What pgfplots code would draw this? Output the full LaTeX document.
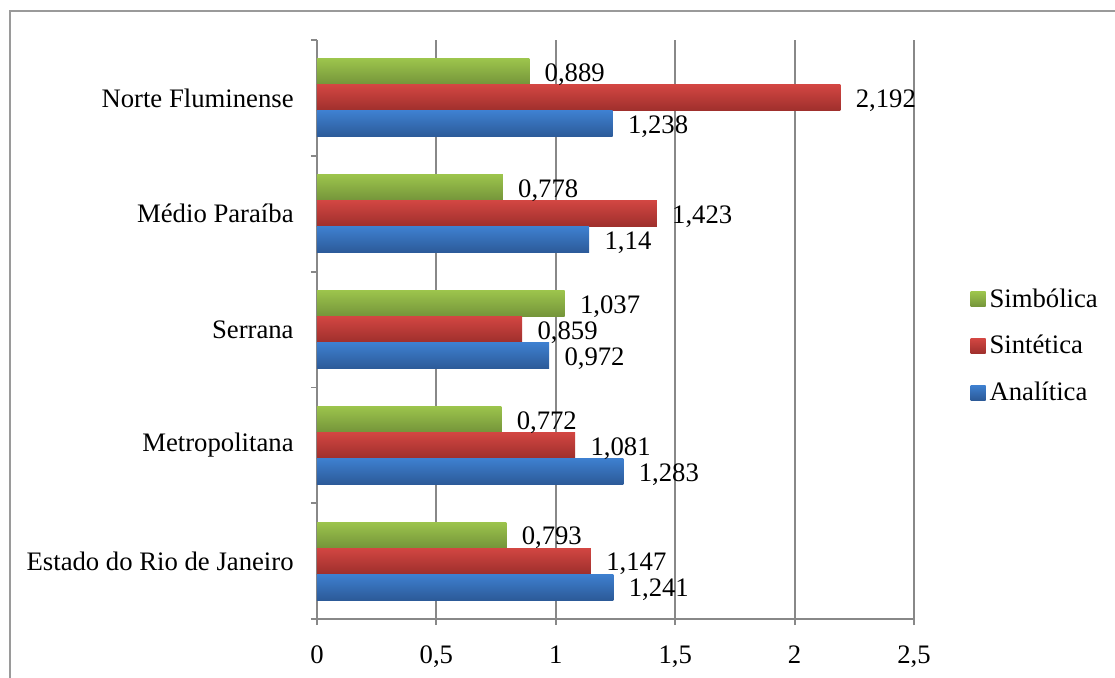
\documentclass[border=0pt]{standalone}
\usepackage{pgfplots}
\pgfplotsset{compat=1.18}
\usepackage{fontspec}
\setmainfont{Liberation Serif}
\definecolor{gtop}{HTML}{9CC44C}
\definecolor{gbot}{HTML}{74943A}
\definecolor{rtop}{HTML}{D24642}
\definecolor{rbot}{HTML}{9E2F2C}
\definecolor{btop}{HTML}{3E80D0}
\definecolor{bbot}{HTML}{2C5A98}
\definecolor{gridg}{HTML}{888888}
\definecolor{frameg}{HTML}{9A9A9A}
\pgfplotsset{
  gser/.style={draw=none, top color=gtop, bottom color=gbot, bar shift=13pt},
  rser/.style={draw=none, top color=rtop, bottom color=rbot, bar shift=0pt},
  bser/.style={draw=none, top color=btop, bottom color=bbot, bar shift=-13pt},
}
\begin{document}
\begin{tikzpicture}[font=\fontsize{13.35}{16}\selectfont]
\clip (0,0) rectangle (557.5pt,338.5pt);
\path[use as bounding box] (0,0) rectangle (557.5pt,338.5pt);
\draw[frameg, line width=1pt] (4.75pt,-20pt) -- (4.75pt,333.25pt) -- (600pt,333.25pt);
\begin{axis}[
  at={(158.5pt,29pt)}, anchor=south west,
  scale only axis, width=298.5pt, height=289.5pt,
  xbar, bar width=13pt,
  xmin=0, xmax=2.5, ymin=-0.5, ymax=4.5,
  axis x line*=bottom, axis y line*=left,
  axis line style={gridg, line width=0.9pt, -},
  xmajorgrids, grid style={gridg, line width=0.9pt},
  xtick={0,0.5,1,1.5,2,2.5},
  /pgf/number format/use comma,
  /pgf/number format/assume math mode=true,
  tick align=outside, major tick length=3pt, minor tick length=3pt,
  major x tick style={gridg, line width=0.9pt},
  major y tick style={draw=none},
  minor y tick style={gridg, line width=0.9pt},
  ytick={0,1,2,3,4},
  minor ytick={-0.5,0.5,1.5,2.5,3.5,4.5},
  yticklabels={Estado do Rio de Janeiro, Metropolitana, Serrana, Médio Paraíba, Norte Fluminense},
  yticklabel style={anchor=east, inner sep=0pt, xshift=-8.5pt},
  xticklabel style={anchor=north, inner sep=0pt, yshift=-10pt},
  nodes near coords={\pgfmathprintnumber[fixed, precision=3, use comma]{\pgfplotspointmeta}},
  every node near coord/.append style={anchor=west, inner sep=0pt, xshift=7.5pt, yshift=-1.5pt, text=black, font=\fontsize{13.35}{16}\selectfont},
  legend style={at={(1.094,0.4715)}, anchor=west, draw=none, fill=none, inner sep=0pt, row sep=8.5pt, font=\fontsize{13.35}{16}\selectfont},
  legend cell align=left,
  legend image code/.code={\path[#1, draw=none] (0pt,-3.75pt) rectangle (7.5pt,3.75pt);},
]
% Norte Fluminense (4)
\addplot[gser] coordinates {(0.889,4)};
\addplot[rser] coordinates {(2.192,4)};
\addplot[bser] coordinates {(1.238,4)};
% Medio Paraiba (3)
\addplot[gser, forget plot] coordinates {(0.778,3)};
\addplot[rser, forget plot] coordinates {(1.423,3)};
\addplot[bser, forget plot] coordinates {(1.14,3)};
% Serrana (2)
\addplot[gser, forget plot] coordinates {(1.037,2)};
\addplot[rser, forget plot] coordinates {(0.859,2)};
\addplot[bser, forget plot] coordinates {(0.972,2)};
% Metropolitana (1)
\addplot[gser, forget plot] coordinates {(0.772,1)};
\addplot[rser, forget plot] coordinates {(1.081,1)};
\addplot[bser, forget plot] coordinates {(1.283,1)};
% Estado do Rio de Janeiro (0)
\addplot[gser, forget plot] coordinates {(0.793,0)};
\addplot[rser, forget plot] coordinates {(1.147,0)};
\addplot[bser, forget plot] coordinates {(1.241,0)};
\legend{Simbólica, Sintética, Analítica}
\end{axis}
\end{tikzpicture}
\end{document}
